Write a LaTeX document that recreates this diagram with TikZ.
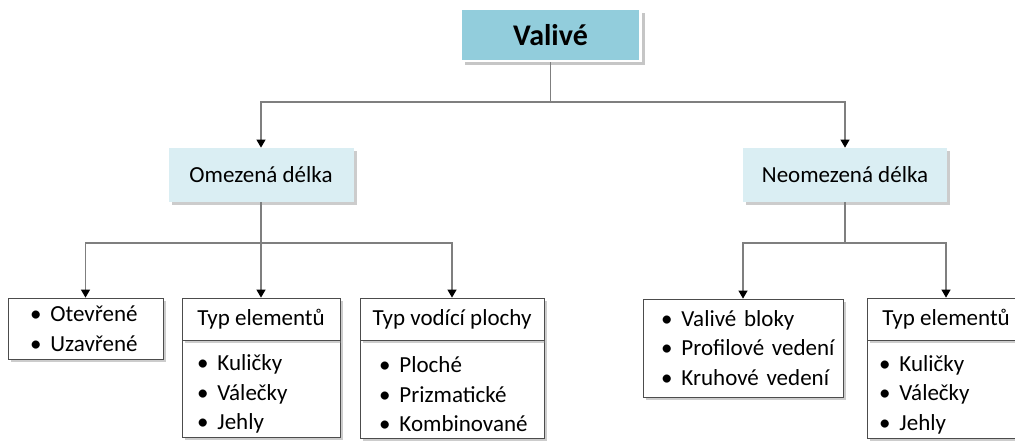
\documentclass[tikz,border=0pt]{standalone}
\usepackage{fontspec}
\setmainfont{Carlito}
\usetikzlibrary{shadows,arrows.meta}
\definecolor{topblue}{HTML}{92CDDC}
\definecolor{lightblue}{HTML}{DAEEF3}
\definecolor{linegray}{HTML}{7F7F7F}
\begin{document}
\begin{tikzpicture}
[x=0.5pt,y=-0.5pt,
  topdecorate/.style={shape=rectangle,fill=topblue,draw=white,line width=1.2pt,
    minimum width=90pt,minimum height=26pt,inner sep=0pt,
    font=\fontsize{15}{18}\selectfont\bfseries,
    drop shadow={shadow xshift=2pt,shadow yshift=-2pt,opacity=0.45}},
  leveldecorate/.style={shape=rectangle,fill=lightblue,inner sep=0pt,
    minimum height=27pt,font=\fontsize{11.5}{14}\selectfont,
    drop shadow={shadow xshift=1.5pt,shadow yshift=-1.5pt,opacity=0.4}},
  boxdecorate/.style={shape=rectangle,fill=white,draw=black!70,line width=0.4pt,
    inner ysep=0pt,font=\fontsize{11.5}{14.75}\selectfont,align=left,
    drop shadow={shadow xshift=1.5pt,shadow yshift=-1.5pt,opacity=0.4}},
  headdecorate/.style={boxdecorate,inner xsep=0pt,align=center,minimum height=21pt},
  linedecorate/.style={draw=linegray,line width=0.6pt},
  arrowdecorate/.style={linedecorate,-{Triangle[length=4pt,width=4.5pt,black]}}]
\useasboundingbox (0,0) rectangle (1015,441);
\clip (0,0) rectangle (1015,441);
\newcommand{\itm}[1]{\mbox{\textbullet\hspace{4.5pt}#1}}
\newcommand{\toprow}{\rule{0pt}{13.5pt}}
% nodes or vertices
\node (top) at (550.5,35) [topdecorate] {Valivé};
\node (omez) at (261,175) [leveldecorate,minimum width=92.5pt] {Omezená délka};
\node (neom) at (845,175) [leveldecorate,minimum width=102pt] {Neomezená délka};
\node (otev) at (85.5,328.5) [boxdecorate,inner xsep=11pt,text width=55.5pt,minimum height=30.5pt] {\itm{Otevřené}\\\itm{Uzavřené}};
\node (elist) at (261,388.5) [boxdecorate,inner xsep=7.5pt,text width=64pt,minimum height=48.5pt] {\toprow\itm{Kuličky}\\\itm{Válečky}\\\itm{Jehly}};
\node (elem) at (261,319) [headdecorate,minimum width=79pt] {Typ elementů};
\node (plist) at (452,389) [boxdecorate,inner xsep=9.5pt,text width=73pt,minimum height=49pt] {\toprow\itm{Ploché}\\\itm{Prizmatické}\\\itm{Kombinované}};
\node (plocha) at (452,319) [headdecorate,minimum width=92pt] {Typ vodící plochy};
\node (bloky) at (743,348) [boxdecorate,inner xsep=9pt,text width=82pt,minimum height=49pt] {\itm{Valivé bloky}\\\itm{Profilové vedení}\\\itm{Kruhové vedení}};
\node (rlist) at (946,389) [boxdecorate,inner xsep=6pt,text width=67pt,minimum height=49pt] {\toprow\itm{Kuličky}\\\itm{Válečky}\\\itm{Jehly}};
\node (relem) at (946,319) [headdecorate,minimum width=79pt] {Typ elementů};
% edges or lines
\coordinate (j0) at (550.5,102);
\coordinate (j1) at (261,243);
\coordinate (j2) at (845,243);
\draw[linedecorate] (top.south) -- (j0);
\draw[arrowdecorate] (j0) -| (omez.north);
\draw[arrowdecorate] (j0) -| (neom.north);
\draw[linedecorate] (omez.south) -- (j1);
\draw[arrowdecorate] (j1) -| (otev.north);
\draw[arrowdecorate] (j1) -- (elem.north);
\draw[arrowdecorate] (j1) -| (plocha.north);
\draw[linedecorate] (neom.south) -- (j2);
\draw[arrowdecorate] (j2) -| (bloky.north);
\draw[arrowdecorate] (j2) -| (relem.north);
\end{tikzpicture}
\end{document}
